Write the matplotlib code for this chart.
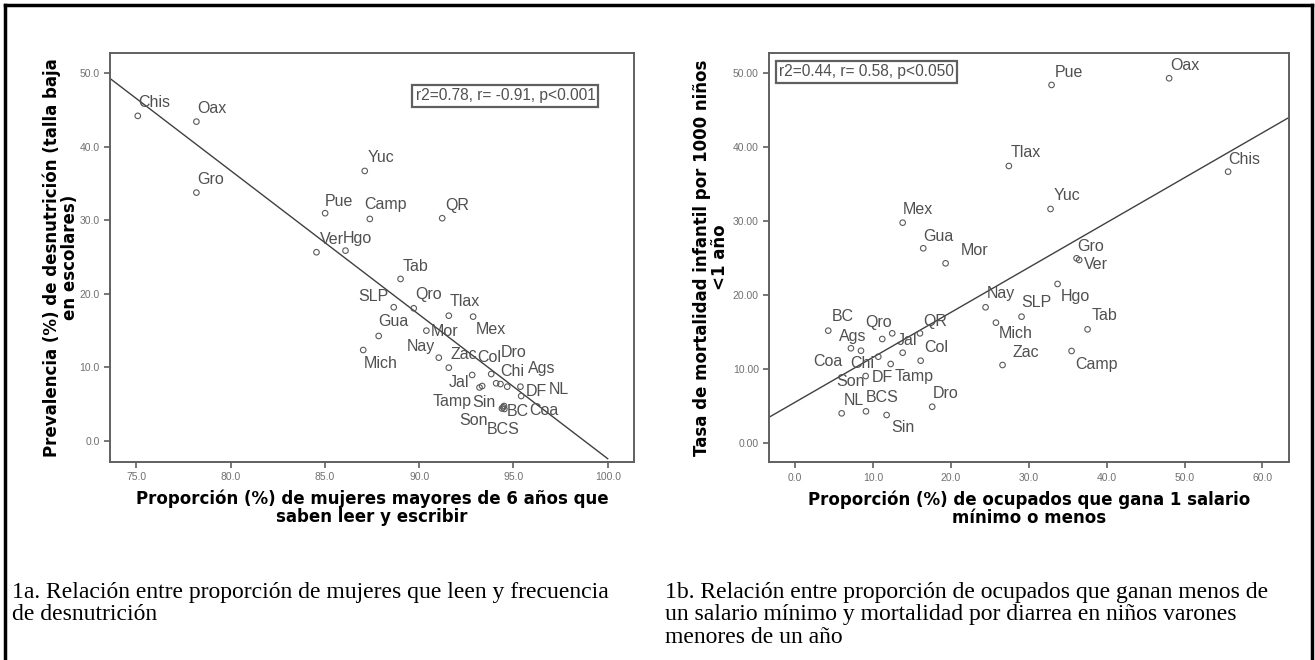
import numpy as np
import matplotlib.pyplot as plt
from matplotlib.lines import Line2D

plt.rcParams.update({
    "font.family": "sans-serif",
    "font.sans-serif": ["Liberation Sans", "DejaVu Sans"],
    "xtick.direction": "out",
    "ytick.direction": "out",
})

# panel 1a: literacy of women vs malnutrition
lit_state = ["Chis", "Oax", "Gro", "Pue", "Ver", "Hgo", "Yuc", "Camp", "QR", "Tab",
             "SLP", "Qro", "Tlax", "Mex", "Gua", "Mor", "Mich", "Nay", "Zac", "Jal",
             "Sin", "Tamp", "Col", "Chi", "Dro", "Ags", "DF", "NL", "BC", "Coa",
             "Son", "BCS"]
lit_x = [75.07, 78.18, 78.18, 85.01, 84.55, 86.09, 87.11, 87.38, 91.22, 89.01,
         88.65, 89.71, 91.57, 92.86, 87.85, 90.38, 87.03, 91.04, 91.57, 92.81,
         93.34, 93.20, 93.82, 94.08, 94.31, 94.67, 95.37, 95.41, 94.45, 94.50,
         94.39, 94.52]
lit_y = [44.16, 43.38, 33.74, 30.94, 25.64, 25.86, 36.68, 30.16, 30.26, 22.01,
         18.17, 18.03, 17.02, 16.89, 14.27, 14.99, 12.36, 11.32, 9.96, 8.97,
         7.47, 7.27, 9.10, 7.84, 7.74, 7.38, 7.38, 6.11, 4.58, 4.76,
         4.42, 4.35]
lit_fit = (193.2, -1.956)   # intercept, slope as drawn
lit_stats = "r2=0.78, r= -0.91, p<0.001"

# panel 1b: workers earning <= 1 minimum wage vs infant mortality
sal_state = ["BC", "Qro", "Jal", "QR", "Ags", "Coa", "Chi", "Tamp", "Col", "Son",
             "DF", "Dro", "NL", "BCS", "Sin", "Mex", "Gua", "Mor", "Pue", "Oax",
             "Tlax", "Chis", "Yuc", "Gro", "Ver", "Hgo", "SLP", "Nay", "Mich", "Tab",
             "Zac", "Camp"]
sal_x = [4.27, 11.20, 12.48, 16.04, 7.18, 8.47, 10.69, 13.82, 16.13, 12.28,
         9.07, 17.61, 5.99, 9.11, 11.76, 13.82, 16.46, 19.33, 32.93, 48.02,
         27.45, 55.59, 32.80, 36.14, 36.47, 33.70, 29.08, 24.46, 25.79, 37.55,
         26.64, 35.50]
sal_y = [15.14, 14.01, 14.78, 14.78, 12.76, 12.43, 11.62, 12.16, 11.08, 10.64,
         9.01, 4.86, 3.97, 4.24, 3.74, 29.73, 26.27, 24.24, 48.34, 49.24,
         37.39, 36.62, 31.58, 24.92, 24.69, 21.45, 17.03, 18.30, 16.22, 15.32,
         10.50, 12.39]
sal_fit = (5.46, 0.607)
sal_stats = "r2=0.44, r= 0.58, p<0.050"

# label placement (pixel offsets from the marker, +y is up)
lit_offsets = {
    "Chis": (0, 13), "Oax": (1, 13), "Gro": (1, 13), "Pue": (0, 12), "Ver": (3, 13),
    "Hgo": (-3, 12), "Yuc": (3, 13), "Camp": (-6, 14), "QR": (3, 13), "Tab": (2, 12),
    "SLP": (-35, 11), "Qro": (2, 14), "Tlax": (1, 14), "Mex": (3, -13), "Gua": (0, 14),
    "Mor": (4, -1), "Mich": (1, -13), "Nay": (-32, 11), "Zac": (2, 13), "Jal": (-23, -8),
    "Sin": (-10, -16), "Tamp": (-47, -14), "Col": (-14, 17), "Chi": (4, 12),
    "Dro": (0, 32), "Ags": (21, 18), "DF": (5, -5), "NL": (28, 7), "BC": (4, -4),
    "Coa": (25, -5), "Son": (-43, -12), "BCS": (-18, -21),
}
sal_offsets = {
    "BC": (3, 14), "Qro": (-17, 17), "Jal": (4, -7), "QR": (3, 12), "Ags": (-12, 12),
    "Coa": (-48, -11), "Chi": (-28, -7), "Tamp": (-8, -24), "Col": (4, 13),
    "Son": (-54, -18), "DF": (6, -1), "Dro": (1, 13), "NL": (2, 13), "BCS": (0, 14),
    "Sin": (5, -12), "Mex": (0, 13), "Gua": (0, 12), "Mor": (15, 13), "Pue": (3, 12),
    "Oax": (1, 13), "Tlax": (2, 13), "Chis": (0, 12), "Yuc": (3, 13), "Gro": (1, 12),
    "Ver": (5, -5), "Hgo": (3, -13), "SLP": (0, 14), "Nay": (1, 14), "Mich": (3, -11),
    "Tab": (4, 14), "Zac": (10, 13), "Camp": (4, -13),
}

fig = plt.figure(figsize=(13.15, 6.6), dpi=100)

# outer frame of the figure
frame = dict(color="black", lw=2.5, transform=fig.transFigure, clip_on=False)
fig.add_artist(Line2D([5 / 1315, 5 / 1315], [0, 1 - 5 / 660], **frame))
fig.add_artist(Line2D([5 / 1315, 1312 / 1315], [1 - 5 / 660, 1 - 5 / 660], **frame))
fig.add_artist(Line2D([1312 / 1315, 1312 / 1315], [0, 1 - 5 / 660], **frame))

ax1 = fig.add_axes([0.0837, 0.300, 0.3985, 0.6197])
ax2 = fig.add_axes([0.5850, 0.2995, 0.3952, 0.6207])

grey = "#5a5a5a"
bold_lab = dict(fontsize=12, fontweight="bold", family="DejaVu Sans", linespacing=1.0)


def scatter_panel(ax, states, xs, ys, offsets, fit, xlim, ylim, xend, stats, box_xy):
    ax.scatter(xs, ys, s=16, facecolors="none", edgecolors=grey, linewidths=0.8, zorder=3)
    for s, x, y in zip(states, xs, ys):
        dx, dy = offsets[s]
        ax.annotate(s, (x, y), xytext=(dx, dy), textcoords="offset pixels",
                    ha="left", va="center", fontsize=11.5, color="#505050", zorder=4)
    xl = np.array([xlim[0], xend])
    ax.plot(xl, fit[0] + fit[1] * xl, color="#404040", lw=1.0, zorder=2)
    ax.set_xlim(xlim)
    ax.set_ylim(ylim)
    for sp in ax.spines.values():
        sp.set_color("#606060")
        sp.set_linewidth(1.4)
    ax.tick_params(colors="#606060", labelcolor="#707070", labelsize=7.5,
                   length=4, width=1.2)
    ax.text(box_xy[0], box_xy[1], stats, transform=ax.transAxes, fontsize=11.2,
            color="#505050", ha="left", va="center",
            bbox=dict(boxstyle="square,pad=0.2", fc="white", ec="#606060", lw=1.6))


scatter_panel(ax1, lit_state, lit_x, lit_y, lit_offsets, lit_fit,
              (73.6, 101.4), (-2.85, 52.7), 100.0, lit_stats, (0.583, 0.895))
ax1.set_xticks([75, 80, 85, 90, 95, 100])
ax1.set_xticklabels(["75.0", "80.0", "85.0", "90.0", "95.0", "100.0"])
ax1.set_yticks([0, 10, 20, 30, 40, 50])
ax1.set_yticklabels(["0.0", "10.0", "20.0", "30.0", "40.0", "50.0"])
ax1.set_xlabel("Proporción (%) de mujeres mayores de 6 años que\nsaben leer y escribir",
               **bold_lab)
ax1.set_ylabel("Prevalencia (%) de desnutrición (talla baja\nen escolares)", **bold_lab)
ax1.xaxis.set_label_coords(0.5, -0.068, transform=ax1.transAxes)
ax1.yaxis.set_label_coords(-0.059, 0.5, transform=ax1.transAxes)

scatter_panel(ax2, sal_state, sal_x, sal_y, sal_offsets, sal_fit,
              (-3.3, 63.4), (-2.65, 52.7), 63.4, sal_stats, (0.019, 0.953))
ax2.set_xticks([0, 10, 20, 30, 40, 50, 60])
ax2.set_xticklabels(["0.0", "10.0", "20.0", "30.0", "40.0", "50.0", "60.0"])
ax2.set_yticks([0, 10, 20, 30, 40, 50])
ax2.set_yticklabels(["0.00", "10.00", "20.00", "30.00", "40.00", "50.00"])
ax2.set_xlabel("Proporción (%) de ocupados que gana 1 salario\nmínimo o menos", **bold_lab)
ax2.set_ylabel("Tasa de mortalidad infantil por 1000 niños\n<1 año", **bold_lab)
ax2.xaxis.set_label_coords(0.5, -0.068, transform=ax2.transAxes)
ax2.yaxis.set_label_coords(-0.077, 0.5, transform=ax2.transAxes)

cap = dict(family=["Liberation Serif", "DejaVu Serif"], fontsize=17,
           ha="left", va="top", linespacing=1.08)
fig.text(12 / 1315, 1 - 582 / 660,
         "1a. Relación entre proporción de mujeres que leen y frecuencia\nde desnutrición",
         **cap)
fig.text(665 / 1315, 1 - 582 / 660,
         "1b. Relación entre proporción de ocupados que ganan menos de\n"
         "un salario mínimo y mortalidad por diarrea en niños varones\nmenores de un año",
         **cap)

fig.savefig("out.png", dpi=100)
